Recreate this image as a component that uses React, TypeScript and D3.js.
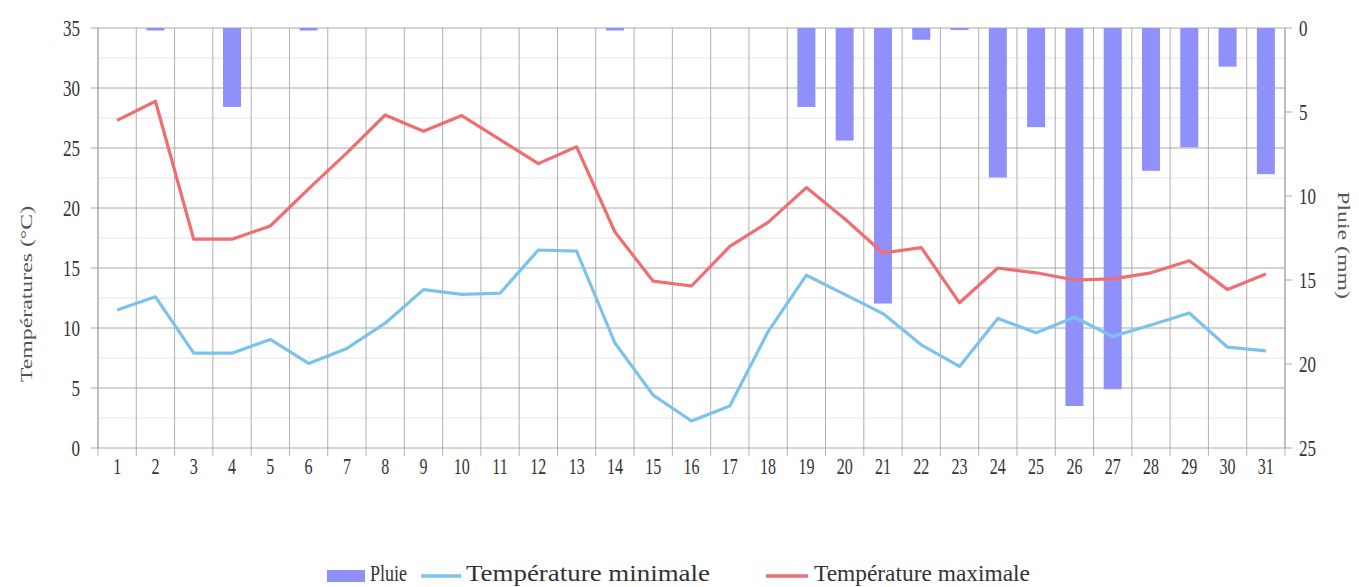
import React from "react";
import * as d3 from "d3";

const days = d3.range(1, 32).map(String);
const tMax = [27.3, 28.9, 17.4, 17.4, 18.5, 21.6, 24.6, 27.75, 26.4, 27.7, 25.7, 23.7, 25.1, 18.0, 13.9, 13.5, 16.8, 18.8, 21.7, 19.1, 16.25, 16.7, 12.1, 15.0, 14.6, 14.0, 14.1, 14.6, 15.6, 13.2, 14.5];
const tMin = [11.5, 12.6, 7.9, 7.9, 9.05, 7.05, 8.3, 10.4, 13.2, 12.8, 12.9, 16.5, 16.4, 8.75, 4.4, 2.25, 3.5, 9.7, 14.4, 12.8, 11.2, 8.6, 6.8, 10.8, 9.6, 10.9, 9.3, 10.25, 11.25, 8.4, 8.1];
const rain = [0, 0.15, 0, 4.7, 0, 0.15, 0, 0, 0, 0, 0, 0, 0, 0.15, 0, 0, 0, 0, 4.7, 6.7, 16.4, 0.7, 0.12, 8.9, 5.9, 22.5, 21.5, 8.5, 7.1, 2.3, 8.7];
const tempTicks = [0, 5, 10, 15, 20, 25, 30, 35];
const tempMinor = [2.5, 7.5, 12.5, 17.5, 22.5, 27.5, 32.5];
const rainTicks = [0, 5, 10, 15, 20, 25];
const legendLabels = ["Pluie", "Température minimale", "Température maximale"];

const W = 1359, H = 587;
const left = 98, right = 1285, top = 28, bottom = 448;
const FONT = "'Liberation Serif', 'Times New Roman', serif";
const TXT = "#333";
const C_RAIN = "#9090fb";
const C_MIN = "#7cc3ec";
const C_MAX = "#ef6e71";
const SY = 1.4;

export default function App() {
  const x = d3.scaleBand<string>().domain(days).range([left, right]).padding(0);
  const yT = d3.scaleLinear().domain([0, 35]).range([bottom, top]);
  const yR = d3.scaleLinear().domain([0, 25]).range([top, bottom]);
  const cx = (i: number) => (x(days[i]) as number) + x.bandwidth() / 2;
  const line = d3.line<number>().x((_, i) => cx(i)).y((d) => yT(d));
  const barW = x.bandwidth() * 0.47;
  const boundaries = d3.range(0, 32).map((i) => left + i * x.bandwidth());
  const tr = (px: number, py: number, sy = SY) => `translate(${px},${py}) scale(1,${sy})`;

  return (
    <svg width={W} height={H} style={{ position: "absolute", left: 0, top: 0, background: "#fff" }} fontFamily={FONT}>
      {tempMinor.map((t) => (
        <line key={"m" + t} x1={left} x2={right} y1={yT(t)} y2={yT(t)} stroke="#e4e4e4" strokeWidth={1} />
      ))}
      {boundaries.map((b, i) => (
        <line key={"v" + i} x1={b} x2={b} y1={top} y2={bottom + 8} stroke="#b0b0b0" strokeWidth={1} />
      ))}
      {tempTicks.map((t) => (
        <g key={"t" + t}>
          <line x1={left - 7} x2={right} y1={yT(t)} y2={yT(t)} stroke="#a8a8a8" strokeWidth={1} />
          <text transform={tr(left - 18, yT(t) + 8)} textAnchor="end" fontSize={17} fill={TXT}>{t}</text>
        </g>
      ))}
      {rainTicks.map((r) => (
        <g key={"r" + r}>
          <line x1={right} x2={right + 7} y1={yR(r)} y2={yR(r)} stroke="#a8a8a8" strokeWidth={1} />
          <text transform={tr(right + 14, yR(r) + 8)} textAnchor="start" fontSize={17} fill={TXT}>{r}</text>
        </g>
      ))}
      <line x1={right} x2={right} y1={top} y2={bottom} stroke="#a8a8a8" />
      <line x1={left} x2={left} y1={top} y2={bottom} stroke="#a8a8a8" />
      {rain.map((r, i) => (
        r > 0 ? <rect key={"b" + i} x={cx(i) - barW / 2} y={yR(0)} width={barW} height={yR(r) - yR(0)} fill={C_RAIN} /> : null
      ))}
      <path d={line(tMin) || ""} fill="none" stroke={C_MIN} strokeWidth={3.2} strokeLinejoin="round" />
      <path d={line(tMax) || ""} fill="none" stroke={C_MAX} strokeWidth={3.2} strokeLinejoin="round" />
      {days.map((d, i) => (
        <text key={"x" + d} transform={tr(cx(i), bottom + 26)} textAnchor="middle" fontSize={16} fill={TXT}>{d}</text>
      ))}
      <text transform={`translate(32, ${294}) rotate(-90) scale(${SY},1)`} textAnchor="middle" fontSize={17} fill="#555">Températures (°C)</text>
      <text transform={`translate(1338, ${245}) rotate(90) scale(${SY},1)`} textAnchor="middle" fontSize={17} fill="#555">Pluie (mm)</text>
      <g fontSize={18} fill={TXT}>
        <rect x={327} y={570} width={38} height={12} fill={C_RAIN} />
        <text transform={tr(370, 581, 1.25)} textLength={37} lengthAdjust="spacingAndGlyphs">{legendLabels[0]}</text>
        <line x1={421} x2={461} y1={576} y2={576} stroke={C_MIN} strokeWidth={3.5} />
        <text transform={tr(466, 581, 1.25)} textLength={244} lengthAdjust="spacingAndGlyphs">{legendLabels[1]}</text>
        <line x1={766} x2={808} y1={576} y2={576} stroke={C_MAX} strokeWidth={3.5} />
        <text transform={tr(814, 581, 1.25)} textLength={216} lengthAdjust="spacingAndGlyphs">{legendLabels[2]}</text>
      </g>
    </svg>
  );
}
